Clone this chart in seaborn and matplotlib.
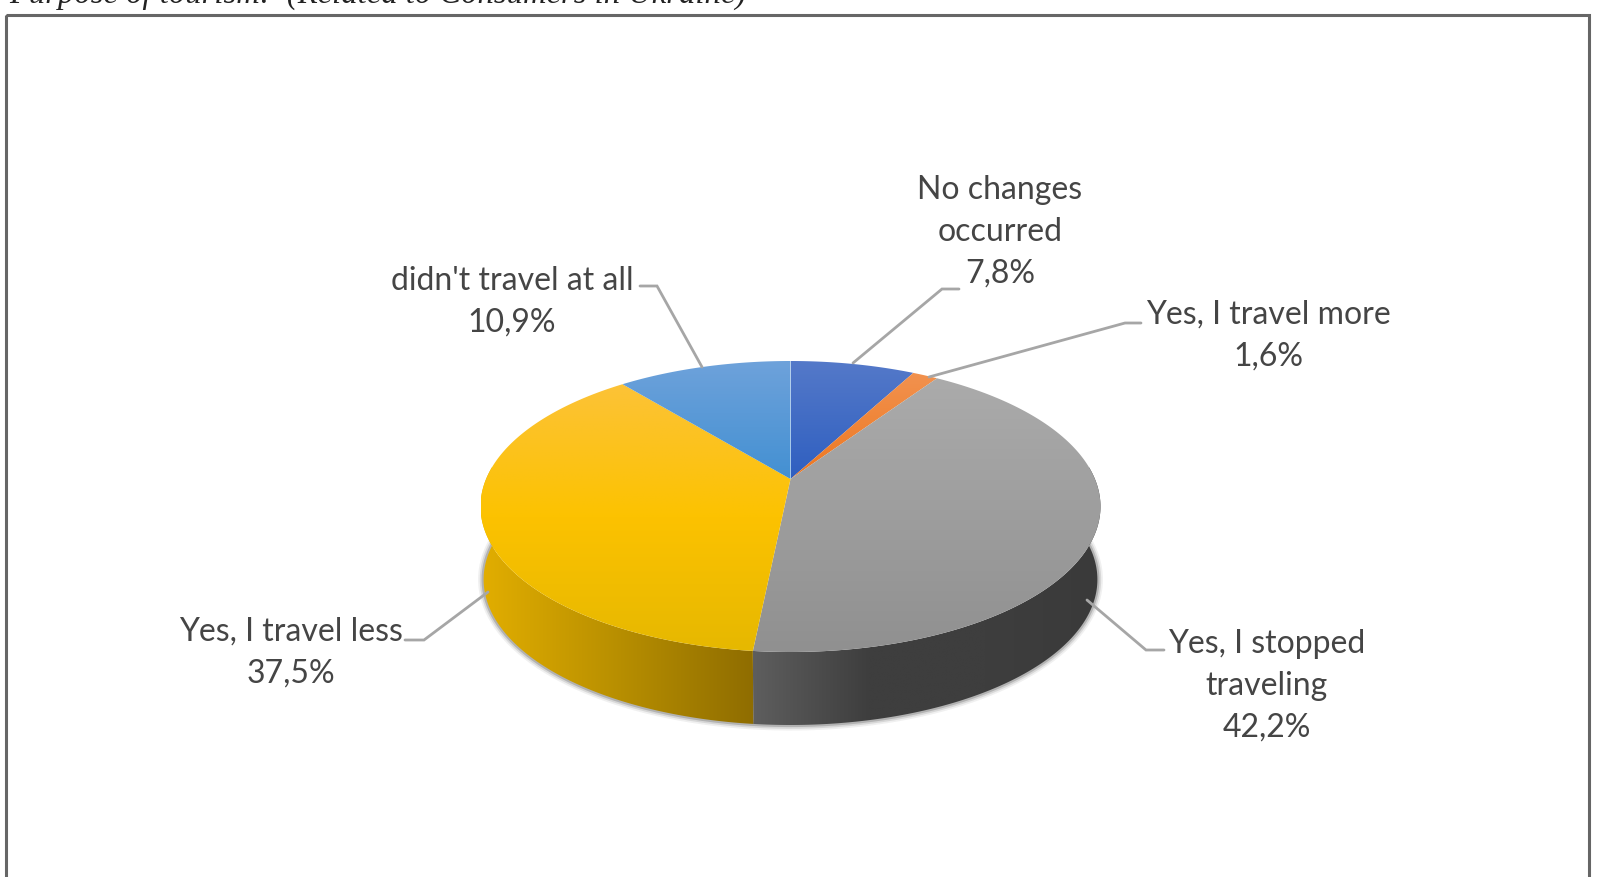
import numpy as np
import matplotlib
matplotlib.use("Agg")
import matplotlib.pyplot as plt
from matplotlib.patches import Polygon, Rectangle
import seaborn as sns

# Values, clockwise from 12 o'clock
categories = ["No changes\noccurred", "Yes, I travel more", "Yes, I stopped\ntraveling",
              "Yes, I travel less", "didn't travel at all"]
shares = [7.8, 1.6, 42.2, 37.5, 10.9]

# top face colours (top of slice -> bottom of slice)
face_colors = [("#5479c9", "#2f5fc0"), ("#f2924f", "#ed7720"), ("#ababab", "#909090"),
               ("#fcc337", "#fcc200", "#e6b800"), ("#6ea2db", "#4390d2")]
# side colours (left -> right)
side_colors = {2: ("#5e5e5e", "#3e3e3e", "#3e3e3e", "#3a3a3a"),
               3: ("#e2ae00", "#b88f00", "#8f6d00")}

# label anchor: centre x, first baseline y
label_pos = [(1000, 199), (1268, 324), (1267, 653), (291, 641), (512, 290)]
leaders = [[(959, 289), (942, 289), (853, 363)],
           [(1141, 323), (1125, 323), (929, 377)],
           [(1164, 650), (1146, 650), (1087, 600)],
           [(405, 640), (424, 640), (488, 592)],
           [(640, 286), (657, 286), (702, 367)]]

APEX_X, APEX_Y = 790.5, 479
A, B, K = 304.4, 140.3, 0.189   # perspective of the disc
DEPTH = 73
TEXT = "#454545"


def project(theta, r=1.0, drop=0.0):
    # theta in degrees clockwise from the top of the pie
    t = np.radians(theta)
    x, y = r * np.sin(t), r * np.cos(t)
    w = 1 + K * y
    return APEX_X + A * x / w, APEX_Y - B * y / w + drop


def rim(t0, t1, drop=0.0, scale=1.0):
    th = np.linspace(t0, t1, 200)
    x, y = project(th, drop=drop)
    x = APEX_X + (x - APEX_X) * scale
    return np.column_stack([x, y])


def gradient_fill(ax, verts, colors, horizontal, zorder):
    cmap = sns.blend_palette(colors, as_cmap=True)
    grad = np.linspace(0, 1, 256)
    grad = grad[None, :] if horizontal else grad[:, None]
    x0, y0 = verts.min(axis=0)
    x1, y1 = verts.max(axis=0)
    im = ax.imshow(grad, cmap=cmap, extent=(x0, x1, y1, y0), aspect="auto",
                   interpolation="bilinear", zorder=zorder, vmin=0, vmax=1)
    im.set_clip_path(Polygon(verts, closed=True, transform=ax.transData))


sns.set_theme(style="white")
fig = plt.figure(figsize=(15.99, 8.77), dpi=100, facecolor="white")
ax = fig.add_axes([0, 0, 1, 1])

edges = np.concatenate([[0], np.cumsum(shares)]) / sum(shares) * 360

# soft shadow under the lower rim
low = rim(85, 275, drop=DEPTH, scale=0.99)
for lw, alpha in [(8, 0.08), (5.5, 0.14), (3, 0.25)]:
    ax.plot(low[:, 0], low[:, 1], color="#444444", lw=lw, alpha=alpha, zorder=1,
            solid_capstyle="round")

# side wall, only the slices that face the viewer
for i, colors in side_colors.items():
    t0, t1 = max(edges[i], 85), min(edges[i + 1], 275)
    verts = np.vstack([rim(t0, t1), rim(t0, t1, drop=DEPTH, scale=0.99)[::-1]])
    gradient_fill(ax, verts, colors, True, 2)

# top face
for i, colors in enumerate(face_colors):
    verts = np.vstack([[APEX_X, APEX_Y], rim(edges[i], edges[i + 1])])
    gradient_fill(ax, verts, colors, False, 3)

# leader lines
for pts in leaders:
    xs, ys = zip(*pts)
    ax.plot(xs, ys, color="#a6a6a6", lw=2, zorder=4, solid_joinstyle="miter")

# data labels, decimal comma as in the original
for name, val, (lx, ly) in zip(categories, shares, label_pos):
    lines = name.split("\n") + [f"{val:.1f}%".replace(".", ",")]
    for n, line in enumerate(lines):
        ax.text(lx, ly + n * 41.6, line, ha="center", va="baseline", color=TEXT,
                fontsize=23, family=["Lato", "DejaVu Sans"], zorder=5)

# frame round the chart, its bottom runs off the crop
ax.add_patch(Rectangle((5.5, 15), 1583.5, 900, fill=False, ec="#666666", lw=2.2, zorder=6))

# caption cut off at the top of the crop
ax.text(9, 3, "Purpose of tourism:  (Related to Consumers in Ukraine)", ha="left", va="baseline",
        color="#222222", fontsize=23.5, style="italic", family="Liberation Serif", zorder=6)

ax.set_xlim(0, 1599)
ax.set_ylim(877, 0)
ax.axis("off")
sns.despine(ax=ax, left=True, bottom=True)

fig.savefig("out.png", dpi=100, facecolor="white")
